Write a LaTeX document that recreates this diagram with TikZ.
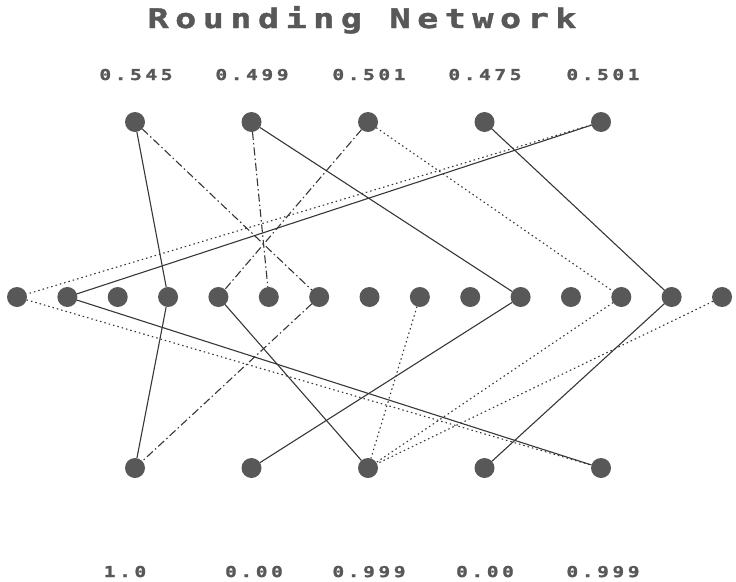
\documentclass[tikz,border=0pt]{standalone}
\usepackage{fontspec}
\usepackage{xcolor}
\usepackage{tikz}
\usetikzlibrary{positioning}
\newfontfamily\pixfont{DejaVu Sans Mono}[BoldFont={DejaVu Sans Mono Bold},
  FakeStretch=1.3, LetterSpace=24, BoldFeatures={FakeBold=1.5}]
\definecolor{unitgray}{RGB}{88,88,88}
\definecolor{wiregray}{RGB}{55,55,55}

\begin{document}
\begin{tikzpicture}[
  x=1pt, y=-1pt,
  node distance=30.36pt and 30.36pt,
  unit/.style={circle, fill=unitgray, minimum size=20pt, inner sep=0pt, outer sep=0pt},
  val/.style={font=\pixfont\bfseries\fontsize{15}{15}\selectfont, text=unitgray,
      anchor=base, inner sep=0pt},
  heading/.style={font=\pixfont\bfseries\fontsize{27}{27}\selectfont, text=unitgray,
      anchor=base, inner sep=0pt},
  wire/.style={draw=wiregray, line width=1.1pt},
  dashdot/.style={wire, dash pattern=on 8pt off 3pt on 1.5pt off 3pt},
  dots/.style={wire, dash pattern=on 1.5pt off 3pt}
]
\useasboundingbox (0,0) rectangle (736,581);

\node[heading] (title) at (362,28) {Rounding Network};

% input row
\node[unit] (t1) at (135,122) {};
\node[unit, right=96.5pt of t1] (t2) {};
\node[unit, right=96.5pt of t2] (t3) {};
\node[unit, right=96.5pt of t3] (t4) {};
\node[unit, right=96.5pt of t4] (t5) {};

% hidden row
\node[unit] (m1) at (17,297) {};
\node[unit, right=of m1] (m2) {};
\node[unit, right=of m2] (m3) {};
\node[unit, right=of m3] (m4) {};
\node[unit, right=of m4] (m5) {};
\node[unit, right=of m5] (m6) {};
\node[unit, right=of m6] (m7) {};
\node[unit, right=of m7] (m8) {};
\node[unit, right=of m8] (m9) {};
\node[unit, right=of m9] (m10) {};
\node[unit, right=of m10] (m11) {};
\node[unit, right=of m11] (m12) {};
\node[unit, right=of m12] (m13) {};
\node[unit, right=of m13] (m14) {};
\node[unit, right=of m14] (m15) {};

% output row
\node[unit] (b1) at (135,468) {};
\node[unit, right=96.5pt of b1] (b2) {};
\node[unit, right=96.5pt of b2] (b3) {};
\node[unit, right=96.5pt of b3] (b4) {};
\node[unit, right=96.5pt of b4] (b5) {};

% values
\node[val] (in1) at (136,80) {0.545};
\node[val] (in2) at (252,80) {0.499};
\node[val] (in3) at (369,80) {0.501};
\node[val] (in4) at (485,80) {0.475};
\node[val] (in5) at (603,80) {0.501};
\node[val] (out1) at (125,577) {1.0};
\node[val] (out2) at (254,577) {0.00};
\node[val] (out3) at (369,577) {0.999};
\node[val] (out4) at (485,577) {0.00};
\node[val] (out5) at (603,577) {0.999};

\draw[wire] (t1) -- (m4);
\draw[dashdot] (t1) -- (m7);
\draw[dashdot] (t2) -- (m6);
\draw[wire] (t2) -- (m11);
\draw[dashdot] (t3) -- (m5);
\draw[dots] (t3) -- (m13);
\draw[wire] (t4) -- (m14);
\draw[dots] (t5) -- (m1);
\draw[wire] (t5) -- (m2);

\draw[wire] (m4) -- (b1);
\draw[dashdot] (m7) -- (b1);
\draw[wire] (m2) -- (b5);
\draw[dots] (m1) -- (b5);
\draw[wire] (m5) -- (b3);
\draw[wire] (m11) -- (b2);
\draw[dots] (m9) -- (b3);
\draw[dots] (m13) -- (b3);
\draw[dots] (m15) -- (b3);
\draw[wire] (m14) -- (b4);
\end{tikzpicture}
\end{document}
